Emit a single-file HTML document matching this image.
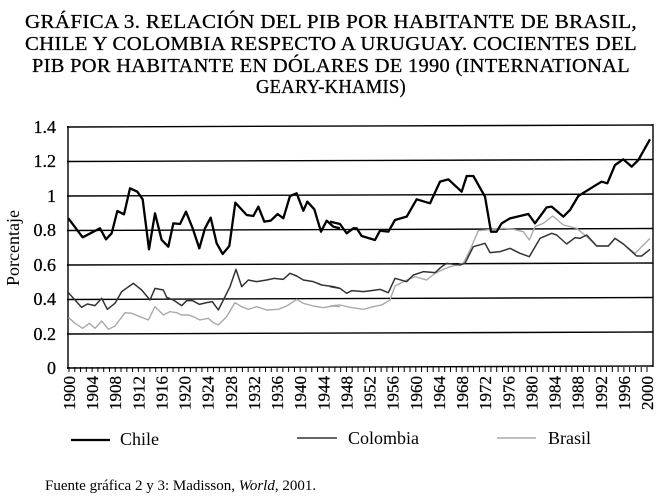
<!DOCTYPE html>
<html><head><meta charset="utf-8"><style>
html,body{margin:0;padding:0;background:#fff;}
svg{display:block;font-family:"Liberation Serif",serif;}
</style></head><body>
<svg width="660" height="502" viewBox="0 0 660 502" xmlns="http://www.w3.org/2000/svg">
<g font-size="20" fill="#000" stroke="#000" stroke-width="0.3" text-anchor="middle" letter-spacing="0.3">
<text x="331" y="28" textLength="612" lengthAdjust="spacingAndGlyphs">GRÁFICA 3. RELACIÓN DEL PIB POR HABITANTE DE BRASIL,</text>
<text x="331" y="50" textLength="612" lengthAdjust="spacingAndGlyphs">CHILE Y COLOMBIA RESPECTO A URUGUAY. COCIENTES DEL</text>
<text x="331" y="72" textLength="598" lengthAdjust="spacingAndGlyphs">PIB POR HABITANTE EN DÓLARES DE 1990 (INTERNATIONAL</text>
<text x="331" y="93" textLength="150" lengthAdjust="spacingAndGlyphs">GEARY-KHAMIS)</text>
</g>
<g stroke="#000" stroke-width="1.4">
<line x1="67" y1="127" x2="653" y2="125"/>
<line x1="67" y1="161.5" x2="653" y2="159.5"/>
<line x1="67" y1="196" x2="653" y2="194"/>
<line x1="67" y1="230.5" x2="653" y2="228.5"/>
<line x1="67" y1="265" x2="653" y2="263"/>
<line x1="67" y1="299.5" x2="653" y2="297.5"/>
<line x1="67" y1="334" x2="653" y2="332"/>
<line x1="67" y1="368" x2="653" y2="366"/>
<line x1="68" y1="126" x2="68" y2="369"/>
<line x1="653" y1="124" x2="653" y2="367"/>
</g>
<g id="ticks" stroke="#000" stroke-width="1"></g>
<g font-size="18" fill="#000" stroke="#000" stroke-width="0.3" text-anchor="end">
<text x="56" y="133">1.4</text><text x="56" y="167">1.2</text><text x="56" y="202">1</text>
<text x="56" y="236">0.8</text><text x="56" y="271">0.6</text><text x="56" y="305">0.4</text>
<text x="56" y="340">0.2</text><text x="56" y="374">0</text>
</g>
<text transform="translate(19,248) rotate(-90)" font-size="18" text-anchor="middle" fill="#000">Porcentaje</text>
<g id="xl" font-size="17" fill="#000" stroke="#000" stroke-width="0.25" text-anchor="end"></g>
<g transform="translate(0,110) scale(0.33333)" fill="none" stroke-linejoin="round">
<polyline vector-effect="non-scaling-stroke" stroke="#aaa" stroke-width="1.4" points="205,622 225,640 248,655 268,640 285,655 305,633 325,658 345,648 375,608 395,610 420,620 445,630 465,590 490,615 510,605 530,608 545,615 565,615 580,620 600,630 625,625 640,638 655,645 680,620 705,578 725,590 745,598 770,590 800,600 835,598 860,588 880,575 890,568 910,580 940,588 970,593 1000,588 1020,590"/>
<polyline vector-effect="non-scaling-stroke" stroke="#333" stroke-width="1.5" points="205,548 225,570 245,592 262,582 285,587 305,565 322,598 345,580 365,545 400,520 425,540 450,570 465,535 490,540 500,562 520,570 545,587 560,572 578,572 598,583 620,578 637,575 655,600 690,530 708,478 725,530 745,510 770,515 800,510 822,505 850,508 870,490 890,498 910,510 940,515 965,525 1000,530 1020,535"/>
<polyline vector-effect="non-scaling-stroke" stroke="#000" stroke-width="2.3" points="205,325 248,382 300,355 318,388 335,370 352,303 372,313 390,235 412,245 428,268 447,418 465,310 485,390 505,410 520,340 540,342 558,305 578,355 598,415 615,355 632,323 650,400 668,432 688,408 706,278 740,315 760,318 775,290 793,335 812,332 833,312 850,325 870,258 890,250 910,302 922,275 943,298 963,365 980,332 1000,350 1020,355"/>
</g>
<g transform="translate(330,110) scale(0.33333)" fill="none" stroke-linejoin="round">
<polyline vector-effect="non-scaling-stroke" stroke="#aaa" stroke-width="1.4" points="0,588 30,585 60,592 100,598 130,590 155,585 180,570 195,528 230,510 255,500 290,510 315,490 340,478 360,470 400,460 420,420 445,362 520,355 550,358 580,365 598,390 615,350 640,340 668,318 700,345 740,355 770,380 800,408 835,408 855,385 880,402 915,430 960,385"/>
<polyline vector-effect="non-scaling-stroke" stroke="#333" stroke-width="1.5" points="0,530 30,535 50,550 65,542 100,545 130,541 150,538 175,548 195,505 230,515 250,495 280,485 315,488 335,470 350,460 390,465 405,460 430,410 465,400 480,428 510,425 540,415 570,430 598,440 630,385 665,370 680,375 710,402 735,383 750,385 770,375 800,408 835,408 855,385 880,402 920,438 935,438 960,418"/>
<polyline vector-effect="non-scaling-stroke" stroke="#000" stroke-width="2.3" points="0,335 30,342 50,370 70,355 80,355 95,378 135,390 150,362 175,365 195,330 230,320 260,268 300,280 330,215 355,208 395,245 410,198 430,198 465,260 483,365 500,365 515,340 540,325 595,312 615,340 650,292 665,290 700,320 720,300 745,258 790,230 815,215 832,220 855,165 880,148 905,170 925,150 960,88"/>
</g>
<g>
<line x1="71" y1="440" x2="110" y2="440" stroke="#000" stroke-width="2.3"/>
<text x="120" y="445" font-size="18" fill="#000">Chile</text>
<line x1="297" y1="438" x2="337" y2="438" stroke="#333" stroke-width="1.5"/>
<text x="348" y="444" font-size="18" fill="#000">Colombia</text>
<line x1="497" y1="438" x2="536" y2="438" stroke="#aaa" stroke-width="1.4"/>
<text x="548" y="444" font-size="18" fill="#000">Brasil</text>
<text x="45" y="490" font-size="15" fill="#000">Fuente gráfica 2 y 3: Madisson, <tspan font-style="italic">World</tspan>, 2001.</text>
</g>
<script>
var t=document.getElementById('ticks'),xl=document.getElementById('xl'),ns='http://www.w3.org/2000/svg';
for(var y=1900;y<=2000;y++){var x=69+(y-1900)*5.78;var l=document.createElementNS(ns,'line');
l.setAttribute('x1',x);l.setAttribute('x2',x);l.setAttribute('y1',367);l.setAttribute('y2',372);t.appendChild(l);
if((y-1900)%4==0){var s=document.createElementNS(ns,'text');s.setAttribute('transform','translate('+(x+6)+',376) rotate(-90)');s.textContent=y;xl.appendChild(s);}}
</script>
</svg>
</body></html>
